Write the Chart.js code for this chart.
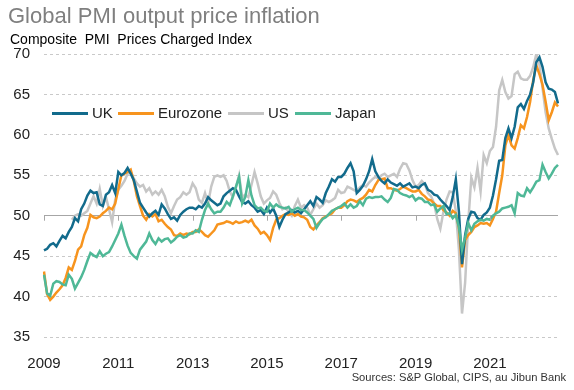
<!DOCTYPE html>
<html>
<head>
<meta charset="utf-8">
<script src="https://cdn.jsdelivr.net/npm/chart.js@4.4.1/dist/chart.umd.min.js"></script>
<style>
  body { margin: 0; background: #fff; font-family: "Liberation Sans", Arial, sans-serif; }
  #wrap { position: relative; width: 574px; height: 390px; overflow: hidden; }
  #wrap canvas { position: absolute; left: 0; top: 0; }
  .title { position: absolute; left: 8px; top: 5px; font-size: 22px; line-height: 22px; color: #7f7f7f; white-space: nowrap; }
  .subtitle { position: absolute; left: 10px; top: 32px; font-size: 14px; line-height: 14px; color: #000; white-space: pre; }
  .source { position: absolute; right: 8px; top: 372px; font-size: 11.2px; line-height: 11.2px; color: #333; white-space: nowrap; }
  .legend { position: absolute; top: 105px; left: 52px; font-size: 15px; line-height: 15px; color: #222; white-space: nowrap; }
  .legend span.item { position: absolute; top: 0; }
  .legend i { position: absolute; top: 6.5px; height: 3px; width: 36px; }
  .legend b { position: absolute; font-weight: normal; left: 40px; }
</style>
</head>
<body>
<div id="wrap">
  <canvas id="chart" width="574" height="390"></canvas>
  <div class="title">Global PMI output price inflation</div>
  <div class="subtitle">Composite  PMI  Prices Charged Index</div>
  <div class="source">Sources: S&amp;P Global, CIPS, au Jibun Bank</div>
  <div class="legend" id="legend"></div>
</div>
<script>
// monthly data, Jan 2009 - Nov 2022
const startYear = 2009;
const nMonths = 167;

const uk = [
  45.7, 45.9, 46.4, 46.6, 46.2, 46.9, 47.5, 47.2, 48.0, 48.6, 49.7, 49.3,
  50.8, 51.5, 52.5, 53.1, 52.8, 52.9, 51.4, 51.2, 52.6, 52.9, 53.8, 52.8,
  55.4, 55.0, 55.3, 55.9, 55.2, 54.4, 53.0, 51.6, 51.0, 50.4, 49.9, 50.3,
  50.6, 50.1, 51.4, 50.9, 50.2, 49.6, 49.8, 49.4, 50.1, 50.5, 50.8, 51.0,
  51.0, 50.8, 51.2, 51.0, 51.5, 52.3, 51.9, 51.6, 51.3, 51.5, 52.4, 52.8,
  53.1, 53.4, 53.2, 52.4, 51.7, 51.5, 51.8, 51.3, 51.0, 50.5, 50.7, 50.2,
  51.0, 50.4, 50.9, 50.0, 48.6, 49.5, 50.2, 50.4, 50.7, 50.4, 50.6, 50.3,
  50.8, 51.3, 51.8, 51.2, 52.3, 52.0, 51.6, 52.8, 53.6, 54.5, 54.2, 54.8,
  54.8, 55.2, 55.9, 56.5, 55.5, 52.8, 53.2, 53.7, 54.5, 55.5, 57.0, 55.5,
  54.8, 54.3, 54.0, 54.5, 54.1, 53.9, 53.7, 54.0, 53.6, 53.8, 54.0, 53.5,
  53.6, 53.4, 53.8, 54.0, 53.2, 53.0, 52.6, 52.5, 52.0, 51.6, 51.2, 50.7,
  52.3, 54.5, 50.5, 44.0, 47.6, 49.6, 50.5, 50.4, 49.7, 49.5, 50.1, 50.4,
  51.0, 52.5, 54.5, 56.8, 56.9, 59.6, 60.8, 59.6, 61.0, 63.4, 63.8, 63.2,
  64.2, 65.0, 66.5, 69.0, 69.6, 68.4, 66.5, 65.7, 65.6, 65.3, 63.9
];

const eurozone = [
  43.1, 40.3, 39.6, 40.0, 40.5, 40.9, 41.4, 42.3, 43.6, 43.3, 44.4, 45.8,
  46.2, 47.6, 48.5, 50.1, 49.8, 49.7, 49.9, 50.3, 50.6, 51.0, 50.8, 51.5,
  53.3, 55.0, 55.2, 55.4, 55.7, 54.3, 52.4, 51.2, 50.0, 49.5, 50.2, 49.9,
  50.2, 49.3, 49.5, 49.0, 48.6, 48.3, 47.6, 47.5, 47.8, 47.6, 47.8, 47.7,
  48.0, 48.0, 48.3, 48.0, 47.6, 47.4, 47.8, 48.2, 48.9, 49.0, 49.1, 49.3,
  49.2, 49.0, 49.3, 49.1, 49.2, 49.4, 49.2, 49.5, 48.8, 48.4, 47.8, 48.0,
  47.6, 47.0, 48.5, 49.5, 49.7, 50.0, 50.2, 50.1, 50.3, 50.0, 50.2, 49.9,
  49.8, 49.5, 48.6, 48.3, 48.8, 49.2, 49.7, 49.9, 50.1, 50.3, 50.8, 51.0,
  51.0, 51.3, 51.8, 52.0, 51.9, 51.7, 52.0, 52.2, 52.6, 53.2, 53.0, 53.8,
  54.4, 54.5, 54.6, 53.4, 53.4, 53.2, 53.1, 53.3, 53.6, 53.4, 53.2, 53.0,
  53.0, 53.2, 52.7, 52.4, 52.0, 51.9, 51.5, 51.2, 51.2, 50.7, 50.4, 50.0,
  50.6, 50.3, 48.5, 43.6, 47.0, 47.6, 48.0, 48.6, 48.8, 49.1, 49.0, 49.1,
  48.8, 49.6, 50.5, 52.8, 55.0, 58.7, 60.0, 58.7, 58.3, 59.6, 61.2, 60.8,
  62.2, 64.1, 66.8, 68.6, 67.5, 66.2, 64.1, 61.8, 62.8, 64.0, 63.5
];

const us = [
  null, null, null, null, null, null, null, null, null, 49.5, 50.0, 50.2,
  50.0, 50.3, 50.6, 51.5, 52.4, 51.5, 53.3, 51.2, 52.3, 50.8, 49.2, 52.0,
  53.2, 53.7, 54.3, 55.2, 55.4, 54.6, 54.0, 53.6, 53.8, 53.0, 53.4, 52.6,
  53.0, 52.6, 53.2, 52.4, 51.1, 50.3, 51.2, 52.0, 52.3, 52.9, 52.6, 52.9,
  54.0, 53.4, 52.0, 51.6, 52.8, 51.5, 53.6, 54.8, 55.0, 54.8, 55.0, 54.3,
  53.0, 52.3, 53.5, 55.0, 52.3, 52.6, 52.3, 53.8, 55.4, 54.0, 52.4, 51.5,
  51.9, 52.2, 53.0, 52.6, 51.6, 50.8, 51.0, 50.5, 50.0, 51.2, 52.0, 51.0,
  51.3, 51.0, 50.1, 50.8, 51.5, 51.0, 51.3, 51.9, 51.7, 51.9, 52.2, 53.2,
  52.8, 52.9, 53.6, 53.4, 53.2, 53.0, 53.5, 53.8, 53.6, 54.1, 54.5, 54.8,
  54.6, 55.0, 55.2, 54.8, 55.0, 55.2, 54.8, 55.8, 56.5, 56.4, 55.6, 54.4,
  53.6, 53.8, 54.3, 53.9, 52.8, 52.4, 51.5, 49.6, 48.4, 50.5, 52.0, 53.0,
  52.9, 50.6, 45.8, 37.9, 41.7, 49.1, 54.7, 53.5, 55.9, 53.0, 57.5, 56.5,
  58.0, 58.5, 61.0, 65.5, 66.8, 65.3, 64.5, 64.8, 67.5, 67.8, 67.0, 66.8,
  66.8, 67.3, 68.4, 70.0, 68.7, 65.8, 62.8, 60.8, 59.5, 58.3, 57.5
];

const japan = [
  42.7, 40.4, 40.1, 41.6, 41.9, 41.8, 41.5, 41.4, 42.7, 42.2, 41.0, 41.7,
  42.4, 43.3, 44.4, 45.4, 45.1, 44.9, 45.6, 45.0, 45.3, 45.5, 46.2, 47.0,
  47.8, 48.9, 47.5, 46.3, 45.4, 45.0, 44.7, 45.8, 46.3, 46.8, 47.8, 47.0,
  46.5, 47.2, 46.8, 47.1, 47.2, 46.7, 47.0, 47.4, 47.6, 47.3, 47.4, 47.8,
  47.8, 48.2, 48.0, 49.5, 50.7, 51.5, 50.8, 50.3, 50.5, 50.5, 51.0, 51.7,
  51.3, 52.4, 53.6, 54.8, 51.5, 52.3, 54.4, 52.5, 51.3, 50.9, 51.0, 50.6,
  50.5, 51.5, 51.0, 51.4, 51.1, 51.0, 50.9, 51.1, 50.5, 50.8, 51.0, 50.7,
  50.7, 50.4, 50.0, 49.6, 48.5, 49.1, 49.6, 49.8, 50.2, 50.6, 50.8, 51.0,
  51.2, 51.5, 51.0, 51.4, 51.0, 51.2, 51.8, 51.3, 52.1, 52.3, 52.2, 52.3,
  52.3, 52.4, 52.0, 51.7, 52.2, 53.3, 53.2, 52.8, 52.6, 52.5, 52.3, 52.5,
  51.9, 52.2, 52.1, 51.7, 51.7, 51.3, 51.4, 50.5, 50.9, 51.2, 50.2, 50.3,
  49.7, 50.1, 48.6, 45.8, 47.3, 49.1, 48.2, 49.0, 49.3, 49.5, 49.4, 49.6,
  49.5, 50.0, 50.3, 50.5, 50.9, 51.0, 51.1, 51.3, 50.3, 52.8, 52.5, 52.4,
  53.4, 52.9, 53.5, 54.2, 54.4, 56.3, 55.4, 54.6, 55.2, 55.9, 56.3
];

const seriesNames = ['UK', 'Eurozone', 'US', 'Japan'];
const seriesColors = ['#126b8c', '#f7941e', '#c6c6c6', '#4fb897'];
const yTicks = [35, 40, 45, 50, 55, 60, 65, 70];

// month labels
let labels = [];
for (let i = 0; i < nMonths; i++) {
  let y = startYear + Math.floor(i / 12);
  let m = (i % 12) + 1;
  labels.push(y + '-' + (m < 10 ? '0' + m : m));
}

// small tick marks on the 50 line, every two years
const axisTicks = {
  id: 'axisTicks',
  afterDatasetsDraw(chart) {
    const ctx = chart.ctx;
    const xs = chart.scales.x;
    const y50 = chart.scales.y.getPixelForValue(50);
    ctx.save();
    ctx.strokeStyle = '#a6a6a6';
    ctx.lineWidth = 1;
    for (let i = 0; i < nMonths; i += 24) {
      let px = Math.round(xs.getPixelForValue(i)) + 0.5;
      ctx.beginPath();
      ctx.moveTo(px, y50);
      ctx.lineTo(px, y50 + 5);
      ctx.stroke();
    }
    ctx.restore();
  }
};

const allData = [uk, eurozone, us, japan];
const drawOrder = [1, 2, 3, 0];

new Chart(document.getElementById('chart'), {
  type: 'line',
  data: {
    labels: labels,
    datasets: allData.map((d, k) => ({
      label: seriesNames[k],
      data: d,
      borderColor: seriesColors[k],
      backgroundColor: seriesColors[k],
      borderWidth: 2.5,
      pointRadius: 0,
      tension: 0,
      order: drawOrder[k]
    }))
  },
  options: {
    responsive: false,
    animation: false,
    devicePixelRatio: 1,
    layout: { padding: { top: 54, right: 16, left: 0, bottom: 0 } },
    plugins: { legend: { display: false }, tooltip: { enabled: false } },
    scales: {
      x: {
        type: 'category',
        grid: { display: false },
        border: { display: false },
        afterFit: (s) => { s.height = 53; },
        ticks: {
          autoSkip: false,
          maxRotation: 0,
          padding: 10,
          color: '#222',
          font: { family: '"Liberation Sans", Arial, sans-serif', size: 15 },
          callback: function(val, idx) {
            let l = labels[idx];
            let y = parseInt(l.slice(0, 4));
            if (l.slice(5) === '01' && (y - startYear) % 2 === 0) return String(y);
            return '';
          }
        }
      },
      y: {
        min: 35,
        max: 70,
        afterFit: (s) => { s.width = 44; },
        afterBuildTicks: (s) => { s.ticks = yTicks.map(v => ({ value: v })); },
        grid: {
          drawTicks: false,
          color: (c) => (c.tick && c.tick.value === 50) ? '#a6a6a6' : '#c9c9c9',
          lineWidth: 1
        },
        border: {
          display: false,
          dash: (c) => (c.tick && c.tick.value === 50) ? [] : [3, 3]
        },
        ticks: {
          padding: 14,
          color: '#222',
          font: { family: '"Liberation Sans", Arial, sans-serif', size: 15 }
        }
      }
    }
  },
  plugins: [axisTicks]
});

// legend inside the plot
const legendPos = [0, 66, 176, 243];
let lg = document.getElementById('legend');
seriesNames.forEach((n, k) => {
  let it = document.createElement('span');
  it.className = 'item';
  it.style.left = legendPos[k] + 'px';
  it.innerHTML = '<i style="background:' + seriesColors[k] + '"></i><b>' + n + '</b>';
  lg.appendChild(it);
});
</script>
</body>
</html>
